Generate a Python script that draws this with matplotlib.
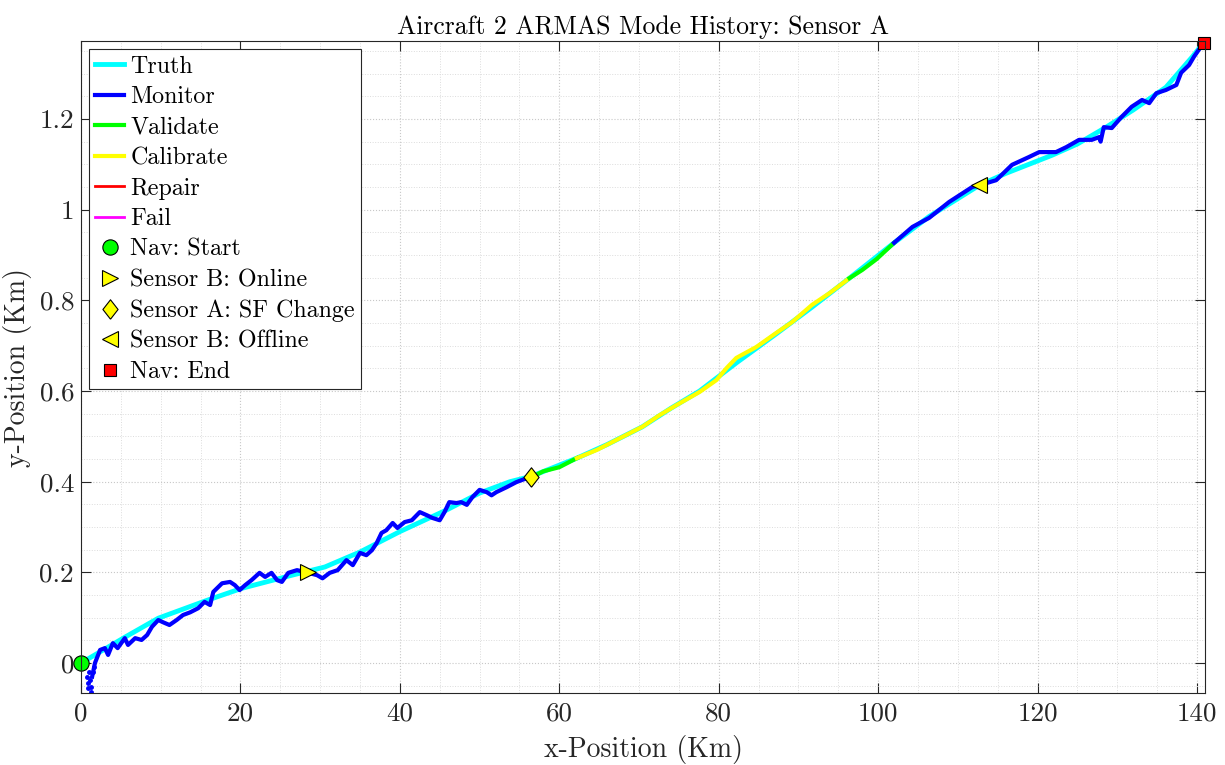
import matplotlib
matplotlib.use("Agg")
import matplotlib.pyplot as plt
from matplotlib.ticker import MultipleLocator, FuncFormatter

plt.rcParams["font.family"] = ["cmr10", "DejaVu Serif"]
plt.rcParams["mathtext.fontset"] = "cm"
plt.rcParams["axes.formatter.use_mathtext"] = True

# truth trajectory (Km)
truth_x = [0, 5.5, 9.7, 15.9, 20.2, 26.5, 30.6, 35.0, 40.0, 45.9, 50.0, 53.8, 56.5,
           62.2, 66.0, 70.4, 74.0, 77.6, 82.2, 87.2, 91.7, 96.4, 102.0, 106.4, 112.7,
           116.0, 121.8, 125.0, 128.6, 132.0, 136.1, 139.4, 140.9]
truth_y = [0, 0.057, 0.099, 0.139, 0.165, 0.194, 0.212, 0.245, 0.29, 0.338, 0.375, 0.4, 0.412,
           0.452, 0.482, 0.521, 0.562, 0.6, 0.662, 0.726, 0.785, 0.849, 0.927, 0.985, 1.054,
           1.08, 1.12, 1.145, 1.182, 1.22, 1.27, 1.337, 1.37]

# scattered monitor samples at start
scatter_x = [0.7, 0.9, 1.1, 1.3, 0.9, 1.25, 1.55, 1.67, 1.0, 1.4]
scatter_y = [-0.03, -0.044, -0.037, -0.052, -0.056, -0.063, -0.019, -0.008, -0.02, -0.07]

# Monitor mode, first leg
mon1_x = [1.4, 1.75, 2.4, 3.0, 3.4, 4.0, 4.6, 5.5, 5.9, 6.8, 7.6, 8.3, 8.9, 9.7, 10.3, 11.1,
          12.0, 12.8, 13.7, 14.7, 15.5, 16.2, 16.6, 17.7, 18.7, 19.3, 19.9, 20.6, 21.4, 22.4,
          23.1, 23.9, 24.6, 25.2, 26.0, 27.1, 28.5, 29.6, 30.3, 31.2, 32.2, 33.3, 34.1, 35.0,
          35.8, 36.5, 37.1, 37.7, 38.3, 39.1, 39.7, 40.6, 41.5, 42.5, 43.4, 44.1, 45.0, 45.6,
          46.2, 47.1, 47.7, 48.4, 49.1, 50.0, 50.9, 51.5, 52.1, 53.4, 54.6, 55.5, 56.5]
mon1_y = [-0.03, 0.0, 0.029, 0.033, 0.018, 0.044, 0.033, 0.055, 0.04, 0.055, 0.051, 0.062,
          0.08, 0.095, 0.09, 0.084, 0.095, 0.106, 0.112, 0.121, 0.135, 0.128, 0.157, 0.176,
          0.179, 0.172, 0.161, 0.172, 0.183, 0.199, 0.19, 0.199, 0.183, 0.179, 0.199, 0.205,
          0.199, 0.194, 0.187, 0.199, 0.205, 0.227, 0.216, 0.243, 0.238, 0.249, 0.265, 0.287,
          0.293, 0.309, 0.298, 0.311, 0.315, 0.333, 0.326, 0.32, 0.315, 0.333, 0.355, 0.353,
          0.355, 0.349, 0.366, 0.382, 0.377, 0.37, 0.377, 0.388, 0.399, 0.405, 0.41]

val1_x = [56.5, 58.0, 60.0, 62.2]
val1_y = [0.41, 0.423, 0.432, 0.452]

cal_x = [62.2, 64.7, 67.6, 70.4, 72.6, 74.7, 77.6, 79.7, 81.0, 82.2, 84.7, 87.2, 89.2,
         91.7, 93.9, 96.4]
cal_y = [0.452, 0.47, 0.496, 0.521, 0.547, 0.569, 0.598, 0.624, 0.651, 0.673, 0.697,
         0.728, 0.752, 0.79, 0.816, 0.849]

val2_x = [96.4, 98.0, 99.8, 102.0]
val2_y = [0.849, 0.867, 0.891, 0.927]

mon2_x = [102.0, 104.3, 106.4, 108.9, 111.8, 112.7, 114.8, 116.8, 118.9, 120.2, 122.3,
          123.6, 125.2, 126.8, 127.7, 127.9, 128.3, 129.3, 130.5, 131.8, 133.1, 134.0,
          134.9, 136.1, 137.4, 138.0, 139.0, 139.6, 140.5, 140.9]
mon2_y = [0.927, 0.962, 0.982, 1.017, 1.05, 1.054, 1.065, 1.099, 1.116, 1.127, 1.127,
          1.138, 1.154, 1.154, 1.16, 1.15, 1.182, 1.18, 1.204, 1.227, 1.242, 1.235, 1.257,
          1.264, 1.275, 1.302, 1.319, 1.337, 1.36, 1.368]

# events
start_xy = (0.0, 0.0)
b_online_xy = (28.5, 0.2)
sf_change_xy = (56.5, 0.41)
b_offline_xy = (112.7, 1.054)
end_xy = (140.9, 1.368)

# matlab-ish diamond, wider than mpl's thin "d"
diamond = [(0, -1), (0.78, 0), (0, 1), (-0.78, 0), (0, -1)]

fig = plt.figure(figsize=(12.25, 7.65), dpi=100)
ax = fig.add_axes([0.0661, 0.0941, 0.9176, 0.8523])

ax.plot(truth_x, truth_y, color="cyan", lw=3.5, label="Truth")
ax.plot(scatter_x, scatter_y, ".", color="blue", ms=5)
ax.plot(mon1_x, mon1_y, color="blue", lw=3, label="Monitor")
ax.plot(val1_x, val1_y, color="lime", lw=3, label="Validate")
ax.plot(cal_x, cal_y, color="yellow", lw=3, label="Calibrate")
ax.plot(val2_x, val2_y, color="lime", lw=3)
ax.plot(mon2_x, mon2_y, color="blue", lw=3)
ax.plot([], [], color="red", lw=2, label="Repair")
ax.plot([], [], color="magenta", lw=2, label="Fail")

mk = dict(linestyle="none", markeredgecolor="black", markeredgewidth=0.8, clip_on=False)
ax.plot(*start_xy, "o", color="lime", ms=11, label="Nav: Start", **mk)
ax.plot(*b_online_xy, ">", color="yellow", ms=12, label="Sensor B: Online", **mk)
ax.plot(*sf_change_xy, marker=diamond, color="yellow", ms=14, label="Sensor A: SF Change", **mk)
ax.plot(*b_offline_xy, "<", color="yellow", ms=12, label="Sensor B: Offline", **mk)
ax.plot(*end_xy, "s", color="red", ms=9, label="Nav: End", **mk)

ax.set_xlim(0, 141)
ax.set_ylim(-0.066, 1.372)
ax.xaxis.set_major_locator(MultipleLocator(20))
ax.xaxis.set_minor_locator(MultipleLocator(5))
ax.yaxis.set_major_locator(MultipleLocator(0.2))
ax.yaxis.set_minor_locator(MultipleLocator(0.05))
ax.yaxis.set_major_formatter(FuncFormatter(lambda v, p: f"{v:g}"))
ax.xaxis.set_major_formatter(FuncFormatter(lambda v, p: f"{v:g}"))
ax.tick_params(which="major", direction="in", length=7, width=0.8, top=True, right=True,
               labelsize=19.5, colors="#262626")
ax.tick_params(axis="x", which="major", pad=6)
ax.tick_params(axis="y", which="major", pad=5)
ax.tick_params(which="minor", length=0, top=True, right=True)
ax.grid(which="major", linestyle=":", color="#c8c8c8", lw=0.8)
ax.grid(which="minor", linestyle=":", color="#dcdcdc", lw=0.7)
for s in ax.spines.values():
    s.set_color("#262626")
    s.set_linewidth(0.8)

ax.set_xlabel("x-Position (Km)", fontsize=20, color="#262626", labelpad=7)
ax.set_ylabel("y-Position (Km)", fontsize=20, color="#262626", labelpad=5)
ax.set_title("Aircraft 2 ARMAS Mode History: Sensor A", fontsize=18.5, pad=5)

leg = ax.legend(loc="upper left", fontsize=17.3, handlelength=1.2, handletextpad=0.25,
                labelspacing=0.35, borderpad=0.25, borderaxespad=0.35, fancybox=False,
                framealpha=1, edgecolor="#262626")
leg.get_frame().set_linewidth(0.8)

fig.savefig("out.png", dpi=100)
